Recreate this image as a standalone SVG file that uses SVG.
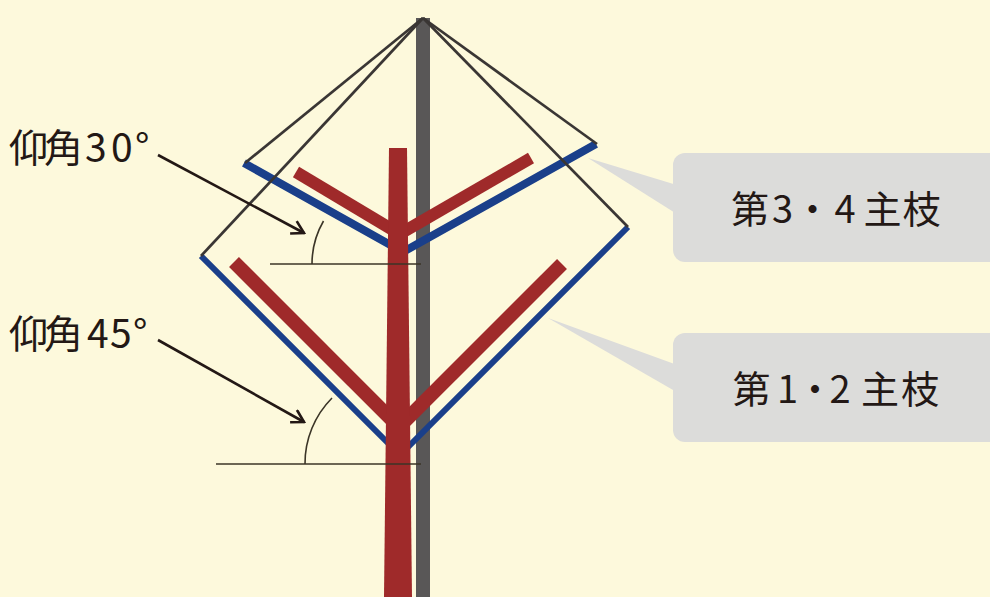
<svg xmlns="http://www.w3.org/2000/svg" width="990" height="597" viewBox="0 0 990 597">
  <defs>
    <marker id="chevron" viewBox="0 0 16 16" refX="14" refY="8" markerWidth="16" markerHeight="16" markerUnits="userSpaceOnUse" orient="auto">
      <path d="M2,1 L14,8 L2,15" fill="none" stroke="#231815" stroke-width="2.6" stroke-linejoin="miter"/>
    </marker>
  </defs>
  <style>
    .pole { fill: #595757; }
    .wire { fill: none; stroke: #3a3634; stroke-width: 2.7; }
    .guide-hi { fill: none; stroke: #1a3f8a; stroke-width: 8; stroke-linejoin: miter; }
    .guide-lo { fill: none; stroke: #1a3f8a; stroke-width: 6; stroke-linejoin: miter; }
    .trunk { fill: #9f2a2a; }
    .limb-hi { stroke: #9f2a2a; stroke-width: 12; }
    .limb-lo { stroke: #9f2a2a; stroke-width: 14; }
    .ref { fill: none; stroke: #3b3527; stroke-width: 1.6; }
    .pointer { fill: none; stroke: #231815; stroke-width: 2.6; marker-end: url(#chevron); }
    .bubble { fill: #dcdcda; }
    .label { font-family: "Noto Sans CJK JP", "Noto Sans", sans-serif; fill: #231815; }
  </style>

  <rect x="0" y="0" width="990" height="597" fill="#fdf9dc"/>

  <!-- support pole -->
  <g id="pole">
    <rect class="pole" x="416" y="18" width="14" height="579"/>
  </g>

  <!-- guide frames (blue) -->
  <g id="guide-upper">
    <polyline class="guide-hi" points="244,163 403,252 596,144"/>
  </g>
  <g id="guide-lower">
    <polyline class="guide-lo" points="201,256 400,455 628,227"/>
  </g>

  <!-- tie wires from the pole top -->
  <g id="wires">
    <line class="wire" x1="423" y1="18" x2="245" y2="163"/>
    <line class="wire" x1="423" y1="18" x2="201" y2="256"/>
    <line class="wire" x1="423" y1="18" x2="597" y2="144"/>
    <line class="wire" x1="423" y1="18" x2="628" y2="227"/>
  </g>

  <!-- tree -->
  <g id="tree">
    <line class="limb-hi" x1="296" y1="172" x2="398" y2="233"/>
    <line class="limb-hi" x1="531" y1="158" x2="398" y2="235"/>
    <line class="limb-lo" x1="234" y1="262" x2="398" y2="426"/>
    <line class="limb-lo" x1="562" y1="264" x2="398" y2="428"/>
    <polygon class="trunk" points="389,148 407,148 412,597 384,597"/>
  </g>

  <!-- angle references -->
  <g id="angle-30">
    <line class="ref" x1="270" y1="264" x2="421" y2="264"/>
    <path class="ref" d="M312,264 A86,86 0 0 1 323.5,221"/>
  </g>
  <g id="angle-45">
    <line class="ref" x1="216" y1="464" x2="421" y2="464"/>
    <path class="ref" d="M305,464 A93,93 0 0 1 332,398"/>
  </g>

  <!-- pointers -->
  <g id="connectors">
    <line class="pointer" x1="158" y1="155" x2="304" y2="233"/>
    <line class="pointer" x1="158" y1="340" x2="304" y2="422"/>
    <polygon class="bubble" points="588,158 680,186 680,216"/>
    <polygon class="bubble" points="548,318 680,366 680,394"/>
  </g>

  <g id="label-30">
    <text class="label" font-size="39" x="9 44 85 111 135" y="162">仰角30°</text>
  </g>
  <g id="label-45">
    <text class="label" font-size="39" x="9 44 87 110 133" y="348">仰角45°</text>
  </g>

  <g id="callout-34">
    <rect class="bubble" x="673" y="153" width="340" height="109" rx="12"/>
    <text class="label" font-size="38" x="731 772 793.5 834.5 863.5 902.5" y="223">第3・4主枝</text>
  </g>
  <g id="callout-12">
    <rect class="bubble" x="673" y="333" width="340" height="109" rx="12"/>
    <text class="label" font-size="38" x="732.5 777 796 829.5 861 901" y="403">第1・2主枝</text>
  </g>
</svg>
